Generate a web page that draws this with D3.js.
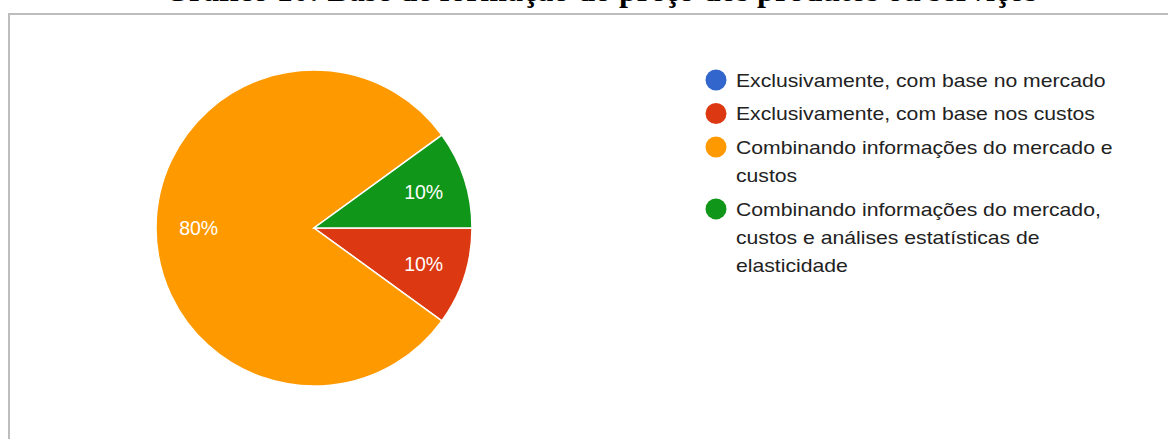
<!DOCTYPE html>
<html>
<head>
<meta charset="utf-8">
<script src="https://cdn.jsdelivr.net/npm/d3@7"></script>
<style>
  html, body { margin: 0; padding: 0; background: #fff; overflow: hidden; }
</style>
</head>
<body>
<div id="chart"></div>
<script>
var width = 1168;
var height = 439;

// data
var categories = [
    'Exclusivamente, com base no mercado',
    'Exclusivamente, com base nos custos',
    'Combinando informações do mercado e custos',
    'Combinando informações do mercado, custos e análises estatísticas de elasticidade'
];
var values = [0, 1, 8, 1];
var colors = ['#3366cc', '#dc3912', '#ff9900', '#109618'];
var title = 'Gráfico 10: Base de formação do preço dos produtos ou serviços';

var svg = d3.select('#chart')
    .append('svg')
        .attr('width', width)
        .attr('height', height);

// title, clipped at the top of the page like in the source
svg.append('text')
    .attr('x', 164)
    .attr('y', 0.5)
    .attr('font-family', '"Liberation Serif", "Times New Roman", serif')
    .attr('font-weight', 'bold')
    .attr('font-size', 32)
    .attr('fill', '#000')
    .text(title);

// frame of the embedded chart
svg.append('rect')
    .attr('x', 9)
    .attr('y', 14)
    .attr('width', width + 20)
    .attr('height', height + 20)
    .attr('fill', 'none')
    .attr('stroke', '#bdbdbd')
    .attr('stroke-width', 2);

var colorScale = d3.scaleOrdinal()
    .domain(categories)
    .range(colors);

var radius = 158;
var total = d3.sum(values);

var pie = svg.append('g')
    .attr('transform', 'translate(314, 228)');

var arcs = d3.pie()
    .sort(null)
    .startAngle(Math.PI / 2)
    .endAngle(Math.PI / 2 + 2 * Math.PI)
    .value(d => d.value)
    (categories.map((c, i) => ({ key: c, value: values[i] })));

var path = d3.arc()
    .outerRadius(radius)
    .innerRadius(0);

var labelArc = d3.arc()
    .outerRadius(radius * 1.46)
    .innerRadius(0);

pie.selectAll('.arc')
    .data(arcs.filter(d => d.data.value > 0))
    .enter()
    .append('path')
        .classed('arc', true)
        .attr('d', path)
        .attr('fill', d => colorScale(d.data.key))
        .attr('stroke', '#fff')
        .attr('stroke-width', 1.5);

pie.selectAll('.pct')
    .data(arcs.filter(d => d.data.value > 0))
    .enter()
    .append('text')
        .classed('pct', true)
        .attr('transform', d => {
            var c = labelArc.centroid(d);
            return 'translate(' + c[0] + ',' + c[1] + ')';
        })
        .attr('text-anchor', 'middle')
        .attr('dy', '0.36em')
        .attr('font-family', '"Liberation Sans", Arial, sans-serif')
        .attr('font-size', 19.5)
        .attr('fill', '#fff')
        .text(d => Math.round(d.data.value / total * 100) + '%');

// legend
var legendFont = 18.5;
var stretch = 1.145;
var wrapWidth = 400;
var lineH = 28.4;
var itemGap = 33.5;

var legend = svg.append('g')
    .attr('transform', 'translate(716, 80)');

var measure = svg.append('text')
    .attr('font-family', '"Liberation Sans", Arial, sans-serif')
    .attr('font-size', legendFont);

function wrap(str) {
    var words = str.split(' ');
    var lines = [];
    var cur = '';
    words.forEach(function(w) {
        var test = cur ? cur + ' ' + w : w;
        measure.text(test);
        if (measure.node().getComputedTextLength() * stretch > wrapWidth && cur) {
            lines.push(cur);
            cur = w;
        } else {
            cur = test;
        }
    });
    lines.push(cur);
    return lines;
}

var yPos = 0;
categories.forEach(function(c, i) {
    var lines = wrap(c);
    var row = legend.append('g')
        .attr('class', 'legendRow')
        .attr('transform', 'translate(0, ' + yPos + ')');

    row.append('circle')
        .attr('r', 10.5)
        .attr('fill', colorScale(c));

    var txt = row.append('text')
        .attr('transform', 'translate(20, 0) scale(' + stretch + ', 1)')
        .attr('font-family', '"Liberation Sans", Arial, sans-serif')
        .attr('font-size', legendFont)
        .attr('fill', '#222');

    lines.forEach(function(l, j) {
        txt.append('tspan')
            .attr('x', 0)
            .attr('y', j * lineH + legendFont * 0.36)
            .text(l);
    });

    yPos += (lines.length - 1) * lineH + itemGap;
});

measure.remove();
</script>
</body>
</html>
